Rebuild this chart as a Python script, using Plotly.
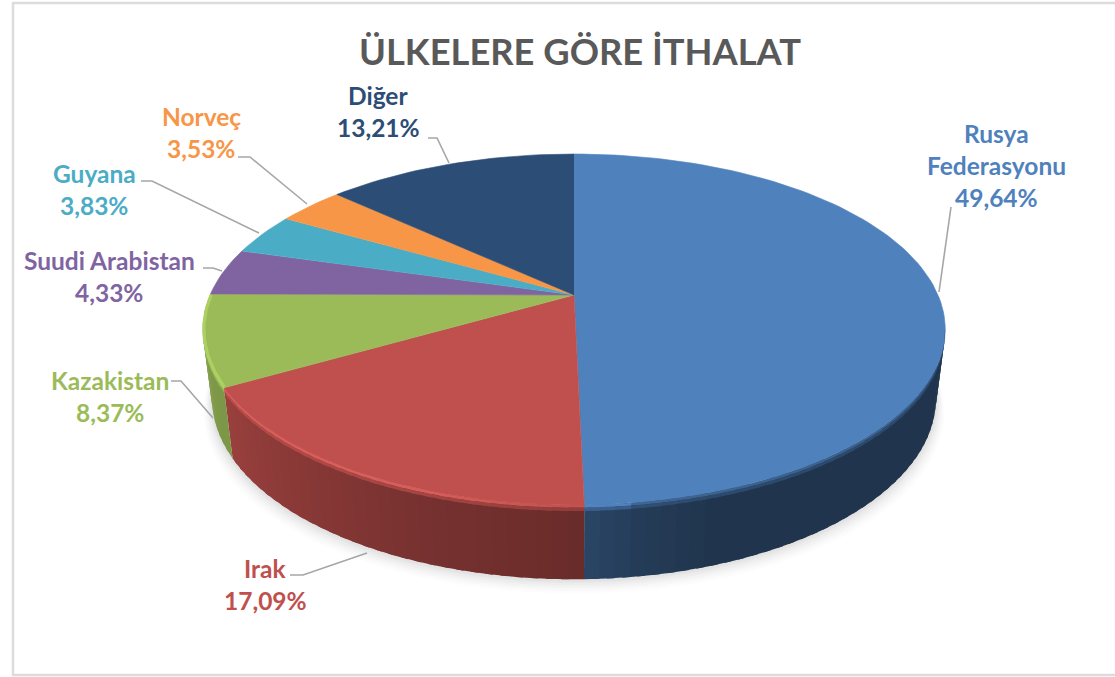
import numpy as np
import plotly.graph_objects as go

# ---- data ----
countries = ["Rusya Federasyonu", "Irak", "Kazakistan", "Suudi Arabistan", "Guyana", "Norveç", "Diğer"]
shares = [49.64, 17.09, 8.37, 4.33, 3.83, 3.53, 13.21]
share_labels = ["49,64%", "17,09%", "8,37%", "4,33%", "3,83%", "3,53%", "13,21%"]
top_colors = ["#4f81bd", "#c0504d", "#9bbb59", "#8064a2", "#4bacc6", "#f79646", "#2c4d75"]
title_text = "ÜLKELERE GÖRE İTHALAT"

# ---- layout constants (pixels of the 1115x677 page) ----
W, H = 1115, 677
CX, CY = 574.0, 295.0       # where the slices meet
A, B, K = 364.0, 168.7, 0.1966   # perspective of the pie disc
DEPTH_X, DEPTH_Y, DEPTH_DY = 0.975, 1.03, 68.0
FONT = "Lato"
LABEL_SIZE = 24.5
LINE_GAP = 32

label_lines_xy = {
    "Rusya Federasyonu": (996, 133, ["Rusya", "Federasyonu"]),
    "Irak": (265, 568, ["Irak"]),
    "Kazakistan": (110, 380, ["Kazakistan"]),
    "Suudi Arabistan": (109, 260, ["Suudi Arabistan"]),
    "Guyana": (94, 173, ["Guyana"]),
    "Norveç": (201, 116, ["Norveç"]),
    "Diğer": (378, 95, ["Diğer"]),
}
leaders = [
    [(951, 207), (939, 292)],
    [(290, 575), (303, 575), (367, 553)],
    [(171, 381), (181, 381), (213, 418)],
    [(203, 268), (213, 268), (222, 271)],
    [(141, 181), (152, 181), (259, 233)],
    [(238, 157), (250, 157), (307, 204)],
    [(428, 138), (437, 138), (449, 163)],
]


def rgb(h):
    return np.array([int(h[i:i + 2], 16) for i in (1, 3, 5)], float)


def css(c):
    c = np.clip(c, 0, 255)
    return f"rgb({c[0]:.0f},{c[1]:.0f},{c[2]:.0f})"


def disc(theta_deg, frac=0.0):
    """Project a rim angle to the page; frac 0 = top face, 1 = bottom of the wall."""
    t = np.radians(theta_deg)
    w = 1 + K * np.cos(t)
    x = A * np.sin(t) / w
    y = -B * np.cos(t) / w
    sx = 1 + (DEPTH_X - 1) * frac
    sy = 1 + (DEPTH_Y - 1) * frac
    return CX + sx * x, CY + DEPTH_DY * frac + sy * y


def wall_shade(th):
    return np.interp(th, [100, 162, 172, 180, 200, 240, 262], [0.41, 0.41, 0.47, 0.55, 0.62, 0.80, 0.86])


def glow(th):
    return np.interp(th, [100, 172, 182, 200, 225, 262], [0, 0, 0.10, 0.55, 0.60, 0.55])


fig = go.Figure()


def poly(xs, ys, color, lw=0.6):
    fig.add_trace(go.Scatter(x=xs, y=ys, mode="lines", fill="toself", fillcolor=color,
                             line=dict(color=color, width=lw), hoverinfo="skip", showlegend=False))


edges = np.concatenate([[0], np.cumsum(shares)]) * 3.6

# soft shadow under the pie
full = np.linspace(0, 360, 241)
shadow_x, shadow_y = disc(full, 1.0)
for grow, col in [(16, "#fcfcfc"), (13, "#f8f8f8"), (10, "#f3f3f3"), (7, "#ededed"), (4, "#e6e6e6"), (2, "#e2e2e2")]:
    cx0 = CX + (shadow_x - CX) * (1 + grow * 0.5 / 371)
    cy0 = shadow_y + grow * 0.85
    poly(cx0, cy0, col)

# wall of the pie, cut into narrow strips so the shading can change along it.
# Each strip runs under the next one, so no seams show between them.
STEP = 2.0
OVERLAP = 1.0
VIS_A, VIS_B = 101.0, 259.0
strips = []
for i, col in enumerate(top_colors):
    lo, hi = max(edges[i], VIS_A), min(edges[i + 1], VIS_B)
    if hi <= lo:
        continue
    n = max(1, int(round((hi - lo) / STEP)))
    for j in range(n):
        strips.append((i, lo + (hi - lo) * j / n, lo + (hi - lo) * (j + 1) / n, hi))

for i, a, b, hi in strips:
    th = (a + b) / 2
    base = rgb(top_colors[i])
    wall = base * wall_shade(th)
    t = np.linspace(a, min(b + OVERLAP, hi), 4)
    x0, y0 = disc(t, 0.0)
    x1, y1 = disc(t, 1.0)
    poly(np.r_[x0, x1[::-1]], np.r_[y0, y1[::-1]], css(wall), lw=0)

# top faces
for i, col in enumerate(top_colors):
    n = max(3, int((edges[i + 1] - edges[i]) / 1.5))
    x, y = disc(np.linspace(edges[i], edges[i + 1], n), 0.0)
    poly(np.r_[CX, x], np.r_[CY, y], col)

# bevel: two thin bands right under the rim
f1, f2, f3 = 0.0, 2.5 / DEPTH_DY, 5.5 / DEPTH_DY
for i, a, b, hi in strips:
    th = (a + b) / 2
    base = rgb(top_colors[i])
    wall = base * wall_shade(th)
    g = glow(th)
    light = base * 1.2 + 8
    c1 = base + (light - base) * g if g > 0 else base * 0.6 + wall * 0.4
    c2 = c1 * 0.45 + wall * 0.55
    t = np.linspace(a, min(b + OVERLAP, hi), 4)
    for fa, fb, c in [(f1, f2, c1), (f2, f3, c2)]:
        xa, ya = disc(t, fa)
        xb, yb = disc(t, fb)
        poly(np.r_[xa, xb[::-1]], np.r_[ya, yb[::-1]], css(c), lw=0)

# light edge of the Kazakistan slice beyond the wall
xg, yg = disc(np.linspace(240.5, 270, 30), 0.0)
fig.add_trace(go.Scatter(x=xg + 1.2, y=yg, mode="lines", line=dict(color="#acd162", width=3),
                         hoverinfo="skip", showlegend=False))

# leader lines
for pts in leaders:
    fig.add_trace(go.Scatter(x=[p[0] for p in pts], y=[p[1] for p in pts], mode="lines",
                             line=dict(color="#a6a6a6", width=1.6), hoverinfo="skip", showlegend=False))

# labels
annotations = [dict(x=580, y=51, text=f"<b>{title_text}</b>", showarrow=False, xref="x", yref="y",
                    xanchor="center", yanchor="middle",
                    font=dict(family=FONT, size=36.3, color="#595959"))]
for name, share, col in zip(countries, share_labels, top_colors):
    lx, ly, lines = label_lines_xy[name]
    for k, line in enumerate(lines + [share]):
        annotations.append(dict(x=lx, y=ly + k * LINE_GAP, text=f"<b>{line}</b>", showarrow=False,
                                xref="x", yref="y", xanchor="center", yanchor="middle",
                                font=dict(family=FONT, size=LABEL_SIZE, color=col)))

fig.update_layout(
    width=W, height=H, margin=dict(l=0, r=0, t=0, b=0, pad=0),
    paper_bgcolor="white", plot_bgcolor="white", showlegend=False,
    xaxis=dict(range=[0, W], visible=False, fixedrange=True),
    yaxis=dict(range=[H, 0], visible=False, fixedrange=True),
    annotations=annotations,
    shapes=[dict(type="rect", x0=13, x1=W + 10, y0=3, y1=675, xref="x", yref="y",
                 line=dict(color="#dcdcdc", width=2.5), layer="below")],
)
fig.write_html("out.html", config={"displayModeBar": False},
               post_script="document.body.style.margin='0';document.documentElement.style.overflow='hidden';")
